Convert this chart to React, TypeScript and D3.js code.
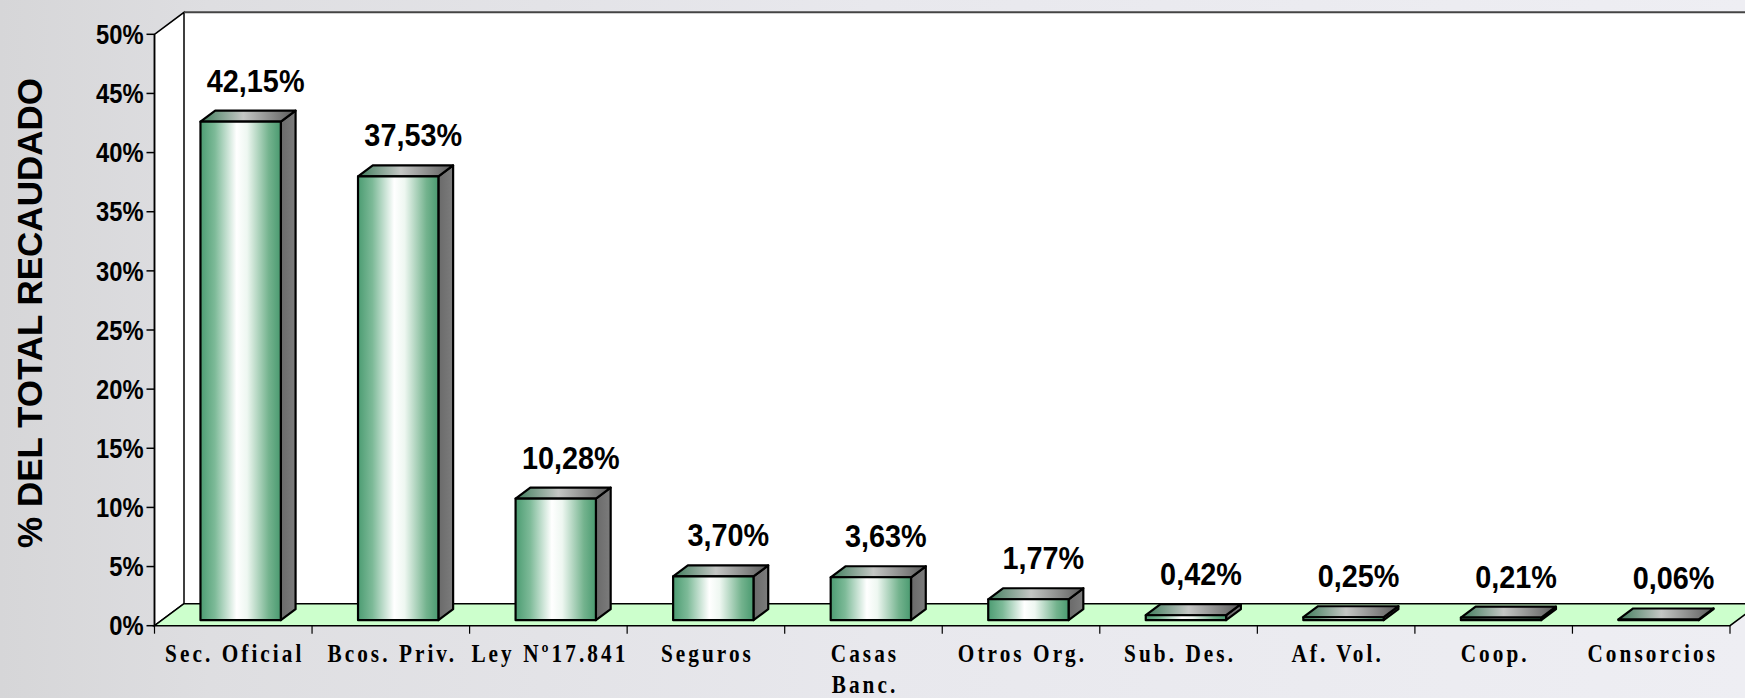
import * as d3 from "d3";

const W = 1745;
const H = 698;

// data
const categories = [
  "Sec. Oficial",
  "Bcos. Priv.",
  "Ley Nº17.841",
  "Seguros",
  "Casas\nBanc.",
  "Otros Org.",
  "Sub. Des.",
  "Af. Vol.",
  "Coop.",
  "Consorcios",
];
const values = [42.15, 37.53, 10.28, 3.7, 3.63, 1.77, 0.42, 0.25, 0.21, 0.06];
const valueLabels = ["42,15%", "37,53%", "10,28%", "3,70%", "3,63%", "1,77%", "0,42%", "0,25%", "0,21%", "0,06%"];
const yTicks = [0, 5, 10, 15, 20, 25, 30, 35, 40, 45, 50];

const left = 154.5;
const right = 1730;
const bottom = 625.7;
const top = 34.3;
// 3d depth of the plot box
const DX = 29.5;
const DY = 22;

const sans = "'Liberation Sans', Arial, sans-serif";
const serif = "'Liberation Serif', 'Times New Roman', serif";

export default function App() {
  const x = d3.scaleBand().domain(categories).range([left, right]).padding(0);
  const y = d3.scaleLinear().domain([0, 50]).range([bottom, top]);
  const barW = x.bandwidth() * 0.51;
  // bars sit in the middle half of the depth
  const f0 = 0.25;
  const bdx = DX * 0.5;
  const bdy = DY * 0.5;

  const floor = [
    [left, bottom],
    [left + DX, bottom - DY],
    [right + DX, bottom - DY],
    [right, bottom],
  ];

  return (
    <svg
      width={W}
      height={H}
      style={{ position: "absolute", left: 0, top: 0, display: "block" }}
    >
      <defs>
        <linearGradient id="bg" x1="0" y1="0" x2="1" y2="0">
          <stop offset="0" stopColor="#d6d6d8" />
          <stop offset="0.12" stopColor="#dedee1" />
          <stop offset="0.5" stopColor="#e8e8ed" />
          <stop offset="1" stopColor="#eeeef3" />
        </linearGradient>
        <linearGradient id="front" x1="0" y1="0" x2="1" y2="0">
          <stop offset="0" stopColor="#4c9c72" />
          <stop offset="0.18" stopColor="#7dba98" />
          <stop offset="0.45" stopColor="#ffffff" />
          <stop offset="0.58" stopColor="#eef7f1" />
          <stop offset="0.85" stopColor="#74b38e" />
          <stop offset="1" stopColor="#4a9a70" />
        </linearGradient>
        <linearGradient id="topg" x1="0" y1="0" x2="1" y2="0">
          <stop offset="0" stopColor="#3f7d5c" />
          <stop offset="0.45" stopColor="#c4c6c4" />
          <stop offset="1" stopColor="#5a5a5a" />
        </linearGradient>
        <linearGradient id="side" x1="0" y1="0" x2="1" y2="0">
          <stop offset="0" stopColor="#6a6a6a" />
          <stop offset="1" stopColor="#7c7c7c" />
        </linearGradient>
      </defs>

      <rect x={0} y={0} width={W} height={H} fill="url(#bg)" />

      {/* y axis title */}
      <text
        transform={`translate(42,313) rotate(-90)`}
        textAnchor="middle"
        fontFamily={sans}
        fontWeight="bold"
        fontSize={35}
        fill="#000"
      >
        % DEL TOTAL RECAUDADO
      </text>

      {/* walls */}
      <rect x={left + DX} y={top - DY} width={W} height={bottom - top} fill="#fff" />
      <polygon
        points={`${left},${top} ${left + DX},${top - DY} ${left + DX},${bottom - DY} ${left},${bottom}`}
        fill="#fff"
        stroke="#000"
        strokeWidth={1.5}
      />
      <line x1={left + DX} x2={W} y1={top - DY} y2={top - DY} stroke="#444" strokeWidth={2} />
      <polygon points={floor.map((p) => p.join(",")).join(" ")} fill="#ccffcc" stroke="#000" strokeWidth={1.5} />

      {/* y axis */}
      <line x1={left} x2={left} y1={top} y2={bottom} stroke="#000" strokeWidth={1.5} />
      {yTicks.map((t) => (
        <g key={t}>
          <line x1={left - 8} x2={left} y1={y(t)} y2={y(t)} stroke="#000" strokeWidth={1.5} />
          <text
            transform={`translate(${left - 11},${y(t)}) scale(0.88,1)`}
            dy="0.36em"
            textAnchor="end"
            fontFamily={sans}
            fontWeight="bold"
            fontSize={27}
          >
            {t}%
          </text>
        </g>
      ))}

      {/* x axis ticks */}
      {categories.map((c) => (
        <line key={c} x1={x(c)} x2={x(c)} y1={bottom} y2={bottom + 8} stroke="#000" strokeWidth={1.2} />
      ))}
      <line x1={right} x2={right} y1={bottom} y2={bottom + 8} stroke="#000" strokeWidth={1.2} />

      {/* bars */}
      {categories.map((c, i) => {
        const cx = (x(c) as number) + x.bandwidth() / 2;
        const x0 = cx - barW / 2 + DX * f0;
        const x1 = x0 + barW;
        const yb = y(0) - DY * f0;
        const yt = y(values[i]) - DY * f0;
        return (
          <g key={c} stroke="#000" strokeWidth={2.2} strokeLinejoin="round">
            <polygon
              points={`${x1},${yt} ${x1 + bdx},${yt - bdy} ${x1 + bdx},${yb - bdy} ${x1},${yb}`}
              fill="url(#side)"
            />
            <polygon
              points={`${x0},${yt} ${x0 + bdx},${yt - bdy} ${x1 + bdx},${yt - bdy} ${x1},${yt}`}
              fill="url(#topg)"
            />
            <rect x={x0} y={yt} width={barW} height={yb - yt} fill="url(#front)" />
          </g>
        );
      })}

      {/* value labels */}
      {categories.map((c, i) => {
        const cx = (x(c) as number) + x.bandwidth() / 2 + DX * f0;
        const yt = y(values[i]) - DY * f0 - bdy;
        return (
          <text
            key={c}
            transform={`translate(${cx + 15},${yt - 19}) scale(0.9,1)`}
            textAnchor="middle"
            fontFamily={sans}
            fontWeight="bold"
            fontSize={32}
          >
            {valueLabels[i]}
          </text>
        );
      })}

      {/* category labels */}
      {categories.map((c) => {
        const cx = (x(c) as number) + x.bandwidth() / 2;
        return (
          <text
            key={c}
            transform={`translate(${cx + 1.5},662) scale(0.85,1)`}
            textAnchor="middle"
            fontFamily={serif}
            fontWeight="bold"
            fontSize={25}
            letterSpacing={3.6}
          >
            {c.split("\n").map((line, j) => (
              <tspan key={j} x={0} dy={j === 0 ? 0 : 31}>
                {line}
              </tspan>
            ))}
          </text>
        );
      })}
    </svg>
  );
}
